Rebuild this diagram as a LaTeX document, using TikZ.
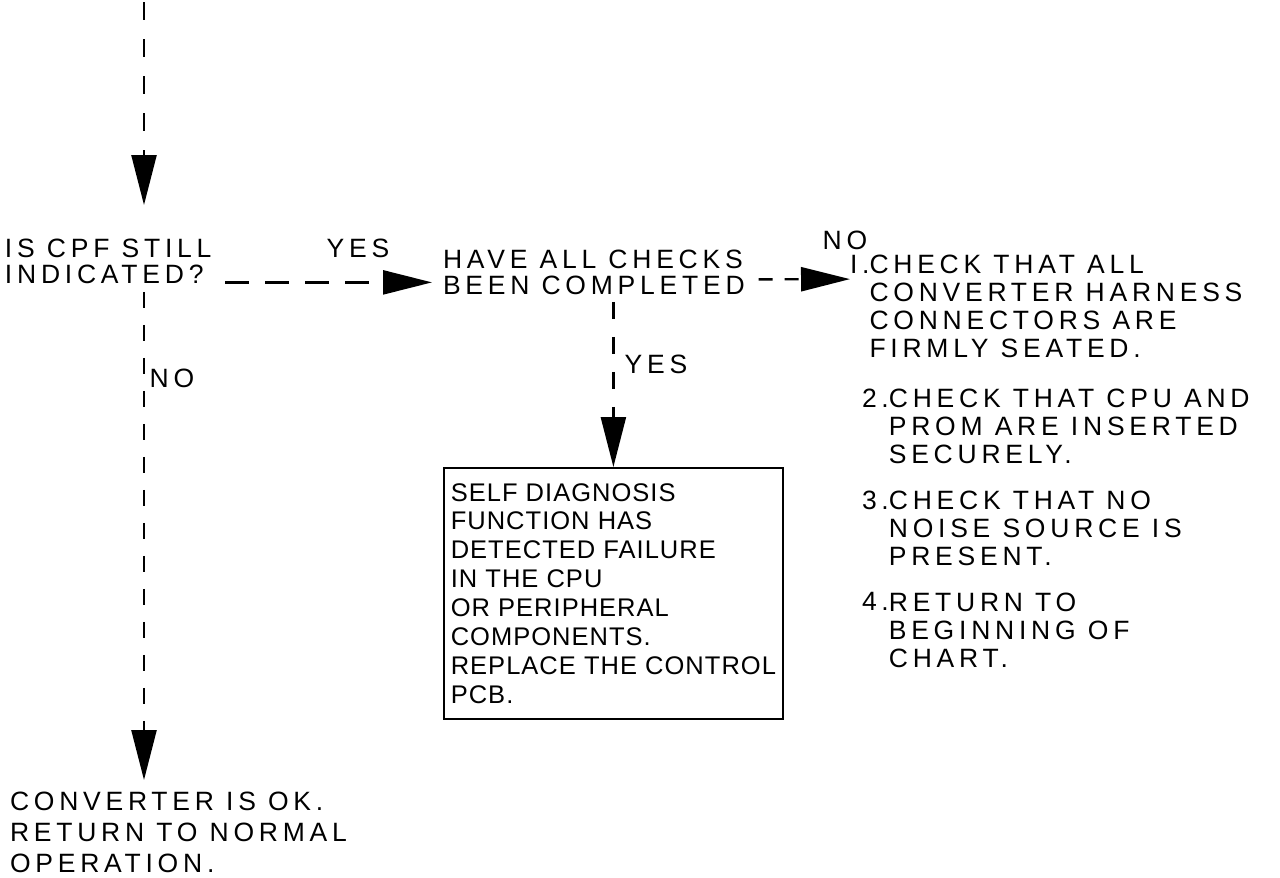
\documentclass[tikz,border=0pt]{standalone}
\usepackage{fontspec}
\usetikzlibrary{arrows.meta,positioning}
\newfontfamily\plotfont[LetterSpace=18]{Liberation Sans}
\newfontfamily\panelfont[LetterSpace=4]{Liberation Sans}

\begin{document}
\begin{tikzpicture}[x=1pt,y=-1pt,
  txt/.style={inner sep=0pt,outer sep=0pt,align=left,anchor=north west,font={\plotfont\fontsize{26.5}{26}\selectfont}},
  chk/.style={txt,font={\plotfont\fontsize{26.5}{28}\selectfont}},
  tag/.style={inner sep=0pt,outer sep=0pt,font={\plotfont\fontsize{26.5}{26}\selectfont}},
  panel/.style={draw,line width=1.8pt,anchor=north west,align=left,minimum width=339pt,minimum height=251pt,inner sep=0pt,font={\panelfont\fontsize{25.5}{28.9}\selectfont}},
  vflow/.style={line width=2.4pt,dash pattern=on 18pt off 19pt,-{Triangle[length=50pt,width=25pt]}},
  hflow/.style={line width=2.4pt,dash pattern=on 24pt off 16pt,-{Triangle[length=49pt,width=24pt]}}]
  \fill[white] (0,0) rectangle (1280,878);
  \useasboundingbox (0,0) rectangle (1280,878);
  % decisions and results
  \coordinate (top) at (144,0);
  \node[txt] (q1) at (5,239) {IS CPF STILL\\INDICATED?};
  \node[txt] (q2) at (443,250) {HAVE ALL CHECKS\\BEEN COMPLETED};
  \node[panel] (diag) at (443,467) {SELF DIAGNOSIS\\FUNCTION HAS\\DETECTED FAILURE\\IN THE CPU\\OR PERIPHERAL\\COMPONENTS.\\REPLACE THE CONTROL\\PCB.};
  \node[txt,font={\plotfont\fontsize{26.5}{31}\selectfont}] (conv) at (10,792) {CONVERTER IS OK.\\RETURN TO NORMAL\\OPERATION.};
  % check list
  \node[chk] (n1) at (850,255) {I.};
  \node[chk] (t1) at (n1.north east) {CHECK THAT ALL\\CONVERTER HARNESS\\CONNECTORS ARE\\FIRMLY SEATED.};
  \foreach \n/\y/\t in {2/388.5/{CHECK THAT CPU AND\\PROM ARE INSERTED\\SECURELY.},3/490.5/{CHECK THAT NO\\NOISE SOURCE IS\\PRESENT.},4/592.5/{RETURN TO\\BEGINNING OF\\CHART.}} {
    \node[chk] (n\n) at (862,\y) {\n.};
    \node[chk] (t\n) at (n\n.north east) {\t};
  }
  % answers
  \node[tag] (yes1) at (358,248) {YES};
  \node[tag] (no1) at (845,240) {NO};
  \node[tag] (yes2) at (656,364) {YES};
  \node[tag] (no2) at (172,378) {NO};
  % flow lines
  \draw[vflow,dash phase=-2pt,shorten >=34pt] (top) -- (q1.north -| top);
  \draw[hflow,shorten <=14pt,shorten >=11pt] ([yshift=-21pt]q1.east) -- ([yshift=-10pt]q2.west);
  \draw[hflow,dash pattern=on 14pt off 12pt,shorten <=14pt] ([yshift=-7pt]q2.east) -- ([yshift=-15pt]n1.west);
  \draw[vflow,dash pattern=on 17pt off 18pt,shorten <=7pt] (q2.south -| diag.north) -- (diag.north);
  \draw[vflow,dash pattern=on 16pt off 17pt,shorten <=8pt,shorten >=12pt] (q1.south -| top) -- (conv.north -| top);
\end{tikzpicture}
\end{document}
